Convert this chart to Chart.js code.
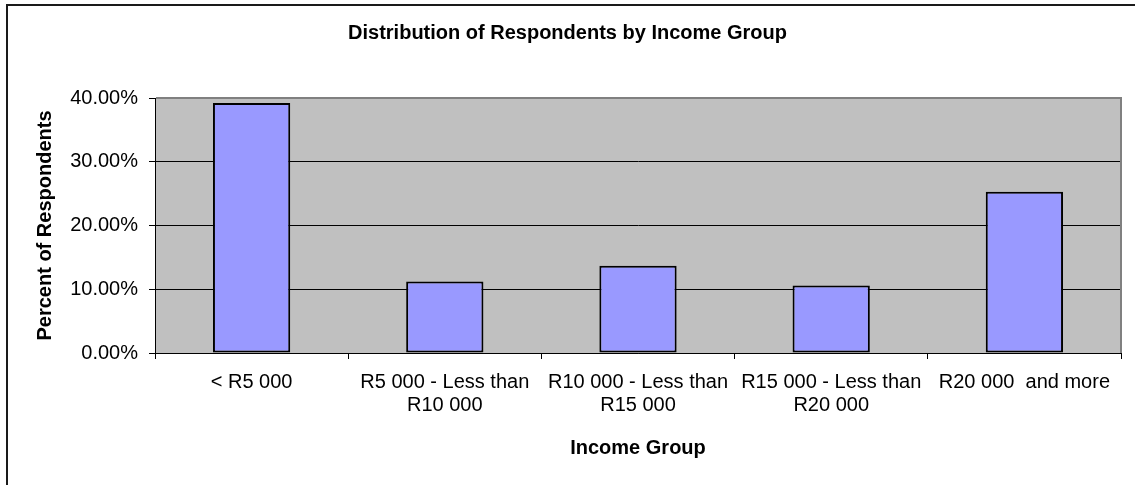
<!DOCTYPE html>
<html lang="en">
<head>
  <meta charset="UTF-8" />
  <title>Distribution of Respondents by Income Group</title>
  <script src="https://cdn.jsdelivr.net/npm/chart.js"></script>
  <style>
    body { margin: 0; background: #fff; }
    #wrap { width: 1135px; height: 485px; position: relative; }
  </style>
</head>
<body>
  <div id="wrap"><canvas id="incomeChart"></canvas></div>

  <script>
    // Data
    const incomeGroups = [
      '< R5 000',
      ['R5 000 - Less than', 'R10 000'],
      ['R10 000 - Less than', 'R15 000'],
      ['R15 000 - Less than', 'R20 000'],
      'R20 000  and more'
    ];
    const percentRespondents = [39.2, 11.2, 13.7, 10.6, 25.3];
    const yTicks = [0, 10, 20, 30, 40];

    const FONT = "Arial, 'Liberation Sans', sans-serif";

    // white page, outer chart frame, grey plot area
    const frame = {
      id: 'frame',
      beforeDraw(chart) {
        const { ctx, chartArea: a } = chart;
        ctx.save();
        ctx.fillStyle = '#fff';
        ctx.fillRect(0, 0, chart.width, chart.height);
        ctx.strokeStyle = '#1a1a1a';
        ctx.lineWidth = 2;
        ctx.beginPath();
        ctx.moveTo(7, chart.height);
        ctx.lineTo(7, 5);
        ctx.lineTo(chart.width, 5);
        ctx.stroke();
        ctx.fillStyle = '#c0c0c0';
        ctx.fillRect(a.left, a.top, a.right - a.left, a.bottom - a.top);
        ctx.restore();
      },
      beforeDatasetsDraw(chart) {
        const { ctx, chartArea: a } = chart;
        ctx.save();
        ctx.strokeStyle = '#808080';
        ctx.lineWidth = 2;
        ctx.beginPath();
        ctx.moveTo(a.left + 1, a.top);
        ctx.lineTo(a.right, a.top);
        ctx.lineTo(a.right, a.bottom);
        ctx.stroke();
        ctx.restore();
      }
    };

    new Chart(document.getElementById('incomeChart'), {
      type: 'bar',
      data: {
        labels: incomeGroups,
        datasets: [{
          data: percentRespondents,
          yAxisID: 'y',
          backgroundColor: '#9999ff',
          borderColor: '#000',
          borderWidth: 2,
          borderSkipped: false,
          barPercentage: 0.4,
          categoryPercentage: 1
        }]
      },
      options: {
        responsive: true,
        maintainAspectRatio: false,
        animation: false,
        layout: { padding: 0 },
        plugins: {
          legend: { display: false },
          tooltip: { enabled: false },
          title: {
            display: true,
            text: 'Distribution of Respondents by Income Group',
            color: '#000',
            font: { family: FONT, size: 20, weight: 'bold' },
            padding: { top: 21, bottom: 53 }
          }
        },
        scales: {
          x: {
            afterFit(s) { s.height = 132; },
            grid: { offset: true, drawOnChartArea: false, color: '#000', tickLength: 6 },
            border: { color: '#000', width: 1 },
            ticks: {
              autoSkip: false, maxRotation: 0, color: '#000', padding: 12,
              font: { family: FONT, size: 20, lineHeight: 1.15 }
            },
            title: {
              display: true, text: 'Income Group', color: '#000',
              font: { family: FONT, size: 20, weight: 'bold' },
              padding: { top: 0, bottom: 25 }
            }
          },
          y: {
            min: 0, max: 40,
            afterFit(s) { s.width = 155; },
            afterBuildTicks(s) { s.ticks = yTicks.map(v => ({ value: v })); },
            grid: { color: '#000', tickLength: 6 },
            border: { color: '#000', width: 1 },
            ticks: {
              color: '#000', padding: 11,
              font: { family: FONT, size: 20 },
              callback: v => v.toFixed(2) + '%'
            },
            title: {
              display: true, text: 'Percent of Respondents', color: '#000',
              font: { family: FONT, size: 20, weight: 'bold' },
              padding: { top: 33, bottom: 0 }
            }
          },
          // empty right margin so the plot ends where the reference's does
          yRight: {
            position: 'right',
            afterFit(s) { s.width = 14; },
            grid: { display: false },
            border: { display: false },
            ticks: { display: false }
          }
        }
      },
      plugins: [frame]
    });
  </script>
</body>
</html>
